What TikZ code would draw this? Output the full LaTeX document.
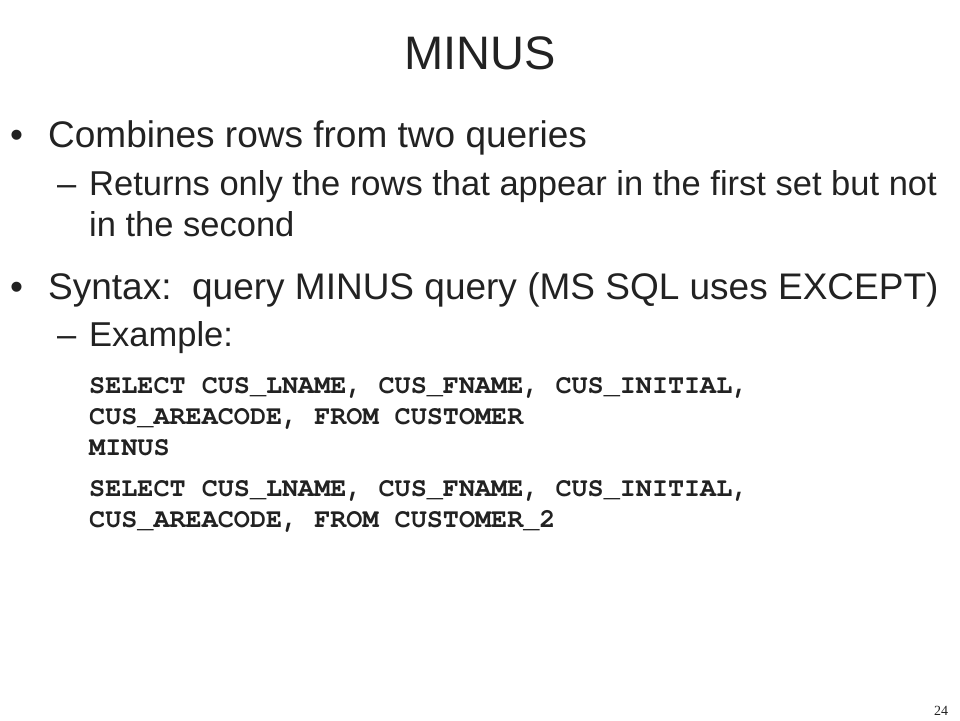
\documentclass[tikz,border=0pt]{standalone}
\usepackage{fontspec}
\setmainfont{Liberation Sans}
\newfontfamily\sqlfont{TeX Gyre Cursor}
\newfontfamily\numfont{Liberation Serif}
\usetikzlibrary{positioning}

\definecolor{slidetext}{RGB}{34,34,34}

\tikzset{
    titletext/.style={anchor=base, inner sep=0pt, text=slidetext,
        font=\fontsize{47}{56}\selectfont},
    lvlone/.style={anchor=base west, inner sep=0pt, text=slidetext,
        font=\fontsize{37}{44}\selectfont},
    lvltwo/.style={anchor=base west, inner sep=0pt, text=slidetext, align=left,
        font=\fontsize{34.5}{41}\selectfont},
    sqltext/.style={anchor=base west, inner sep=0pt, text=slidetext, align=left,
        font=\sqlfont\bfseries\fontsize{26.8}{31}\selectfont},
    pagenum/.style={anchor=base, inner sep=0pt, text=slidetext,
        font=\numfont\fontsize{14}{16}\selectfont}
}

\begin{document}
\begin{tikzpicture}[x=1pt,y=-1pt]
    \useasboundingbox (0,0) rectangle (960,720);
    \pgfmathsetmacro {\xb}{10}  %x of bullets
    \pgfmathsetmacro {\xa}{48}  %x of first level text
    \pgfmathsetmacro {\xd}{57}  %x of dashes
    \pgfmathsetmacro {\xs}{89}  %x of second level text

    \node[titletext] (title) at (480,69) {MINUS}; % Slide title

    % First bullet (multi-line nodes sit on their last line)
    \node[lvlone] (dotA) at (\xb,147) {\textbullet};
    \node[lvlone] (combines) at (\xa,147) {Combines rows from two queries};
    \node[lvltwo] (dashA) at (\xd,195) {\textendash};
    \node[lvltwo] (returns) at (\xs,236)
        {Returns only the rows that appear in the first set but not\\in the second};

    % Second bullet
    \node[lvlone] (dotB) at (\xb,299) {\textbullet};
    \node[lvlone] (syntax) at (\xa,299)
        {Syntax:\ \ query MINUS query (MS SQL uses EXCEPT)};
    \node[lvltwo] (dashB) at (\xd,346) {\textendash};
    \node[lvltwo] (example) at (\xs,346) {Example:};

    % Example query
    \node[sqltext] (queryA) at (\xs,455)
        {SELECT CUS\_LNAME, CUS\_FNAME, CUS\_INITIAL,\\
         CUS\_AREACODE, FROM CUSTOMER\\
         MINUS};
    \node[sqltext] (queryB) at (\xs,527)
        {SELECT CUS\_LNAME, CUS\_FNAME, CUS\_INITIAL,\\
         CUS\_AREACODE, FROM CUSTOMER\_2};

    \node[pagenum] (page) at (941,715) {24}; % Page number
\end{tikzpicture}
\end{document}
